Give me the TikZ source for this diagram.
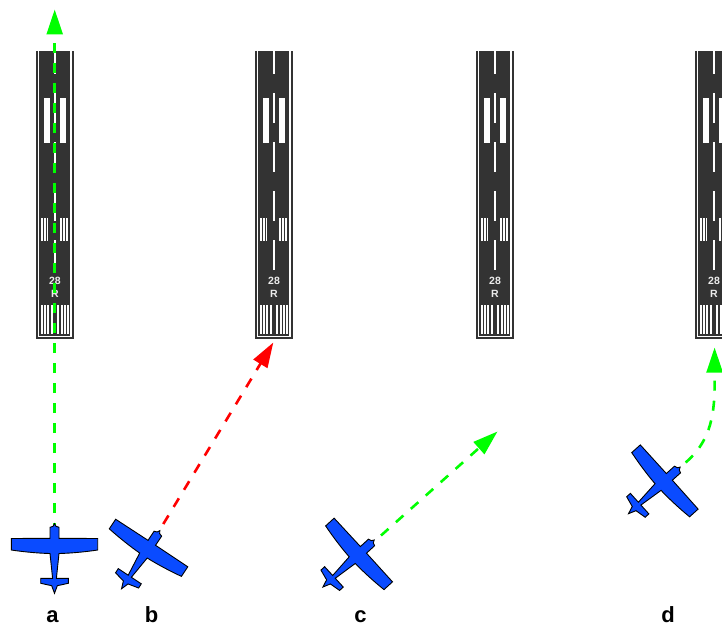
\documentclass[tikz,border=0pt]{standalone}
\usepackage{fontspec}
\setmainfont{Liberation Sans}
\usetikzlibrary{arrows.meta}
\definecolor{rwdark}{HTML}{333333}
\definecolor{planeblue}{HTML}{0A4BFF}
\tikzset{
  x=1pt,y=-1pt,
  rwedge/.style={draw=rwdark,line width=1.4pt,fill=white},
  rwpaint/.style={fill=white,draw=none},
  planeshape/.style={fill=planeblue,draw=black,line width=0.9pt,line join=miter},
  flightpath/.style={line width=2.6pt,dash pattern=on 10pt off 10pt,-{Triangle[length=25pt,width=16pt]}},
  caselabel/.style={font=\bfseries\fontsize{22}{24}\selectfont,anchor=base,inner sep=0pt},
  rwtext/.style={font=\bfseries\fontsize{10.5}{11}\selectfont,text=white!92!black,inner sep=0pt},
  runway/.pic={
    % outer frame, open at the top; origin is centre line, y = 51
    \path[rwedge] (-18,0) -- (-18,287) -- (17.8,287) -- (17.8,0);
    \fill[rwdark] (17,0) rectangle (18.9,287.7);
    \fill[rwdark] (-16,0) rectangle (15.3,285);
    % centre line
    \foreach \a/\b in {0.5/23,42/72,91/121,140/170,189/219}{
      \path[rwpaint] (-1,\a) rectangle (1,\b);
    }
    % touchdown bars
    \path[rwpaint] (-11,47) rectangle (-5,92);
    \path[rwpaint] (5,47) rectangle (11,92);
    % aiming stripes
    \foreach \s in {-14,-11.2,-8.4,5.3,8.1,10.9}{
      \path[rwpaint] (\s,167.3) rectangle (\s+1.7,189.7);
    }
    % threshold stripes
    \foreach \s in {-13.3,-10,-6.7,-3.3,3.3,6.7,10,13}{
      \path[rwpaint] (\s-0.9,253.5) rectangle (\s+0.9,283);
    }
    \node[rwtext] (-rwa) at (0,230) {28};
    \node[rwtext] (-rwb) at (0,243) {R};
  },
  airplane/.pic={
    % origin is the middle of the wing's leading edge; nose points to -y
    \path[planeshape]
      (0,-14.8) -- (-1.5,-12.2) -- (-4.5,-11.2) -- (-4.5,-0.2) -- (-43.2,0) -- (-43.2,11.5)
      .. controls (-30,13.5) and (-15,14.8) .. (-4.5,15)
      -- (-1.9,39.8) -- (-13.8,39.8) -- (-13.8,44.8) -- (-2.8,47.2) -- (0,54.8)
      -- (2.8,47.2) -- (13.8,44.8) -- (13.8,39.8) -- (1.9,39.8) -- (4.5,15)
      .. controls (15,14.8) and (30,13.5) .. (43.2,11.5)
      -- (43.2,0) -- (4.5,-0.2) -- (4.5,-11.2) -- (1.5,-12.2) -- cycle;
  }
}
\begin{document}
\begin{tikzpicture}
\useasboundingbox (0,0) rectangle (722,626);
\begin{scope}
\clip (0,0) rectangle (722,626);

\pic (rwa) at (55,51) {runway};
\pic (rwb) at (274,51) {runway};
\pic (rwc) at (495,51) {runway};
\pic (rwd) at (714,51) {runway};

\coordinate (astart) at (54.7,532.7);
\coordinate (atip) at (54.7,9.5);
\coordinate (bstart) at (163.3,524);
\coordinate (btip) at (273.3,342.5);
\coordinate (cstart) at (381,535.5);
\coordinate (ctip) at (497.5,431.5);
\coordinate (dstart) at (685.7,462.5);
\coordinate (dc1) at (708,443);
\coordinate (dc2) at (714.6,420);
\coordinate (dbend) at (714.6,385);
\coordinate (dtip) at (714.6,347.5);

\draw[flightpath,green] (astart) -- (atip);
\draw[flightpath,red] (bstart) -- (btip);
\draw[flightpath,green] (cstart) -- (ctip);
\draw[flightpath,green] (dstart) .. controls (dc1) and (dc2) .. (dbend) -- (dtip);

\pic (pla) at (54.5,538.5) {airplane};
\pic[rotate=-33.4] (plb) at (151.7,543) {airplane};
\pic[rotate=-47.5] (plc) at (363.3,550) {airplane};
\pic[rotate=-48] (pld) at (669.2,477) {airplane};
\end{scope}

\node[caselabel] (la) at (52.5,622.7) {a};
\node[caselabel] (lb) at (151.5,622.7) {b};
\node[caselabel] (lc) at (360.5,622.7) {c};
\node[caselabel] (ld) at (668,622.7) {d};
\end{tikzpicture}
\end{document}
